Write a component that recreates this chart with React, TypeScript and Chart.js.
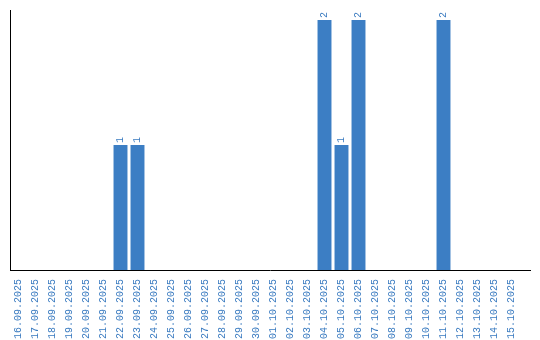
import React, { useEffect, useRef } from "react";
import { Chart, registerables } from "chart.js";

Chart.register(...registerables);

const categories = [
  "16.09.2025", "17.09.2025", "18.09.2025", "19.09.2025", "20.09.2025",
  "21.09.2025", "22.09.2025", "23.09.2025", "24.09.2025", "25.09.2025",
  "26.09.2025", "27.09.2025", "28.09.2025", "29.09.2025", "30.09.2025",
  "01.10.2025", "02.10.2025", "03.10.2025", "04.10.2025", "05.10.2025",
  "06.10.2025", "07.10.2025", "08.10.2025", "09.10.2025", "10.10.2025",
  "11.10.2025", "12.10.2025", "13.10.2025", "14.10.2025", "15.10.2025",
];

const counts = [
  0, 0, 0, 0, 0, 0, 1, 1, 0, 0,
  0, 0, 0, 0, 0, 0, 0, 0, 2, 1,
  2, 0, 0, 0, 0, 2, 0, 0, 0, 0,
];

const BAR_COLOR = "#3c7ec4";
const TEXT_COLOR = "#3a7bc0";
const FONT = "Liberation Mono";

const decorPlugin = {
  id: "decor",
  afterDatasetsDraw(chart: any) {
    const { ctx, chartArea } = chart;
    ctx.save();
    ctx.strokeStyle = "#000";
    ctx.lineWidth = 1;
    ctx.beginPath();
    ctx.moveTo(Math.round(chartArea.left) + 0.5, chartArea.top);
    ctx.lineTo(Math.round(chartArea.left) + 0.5, chartArea.bottom);
    ctx.moveTo(chartArea.left, Math.round(chartArea.bottom) + 0.5);
    ctx.lineTo(chartArea.right + 11, Math.round(chartArea.bottom) + 0.5);
    ctx.stroke();

    const meta = chart.getDatasetMeta(0);
    const data = chart.data.datasets[0].data as number[];
    ctx.fillStyle = TEXT_COLOR;
    ctx.font = `10px "${FONT}"`;
    ctx.textAlign = "left";
    ctx.textBaseline = "middle";
    meta.data.forEach((el: any, i: number) => {
      const v = data[i];
      if (!v) return;
      ctx.save();
      ctx.translate(el.x, el.y - 2);
      ctx.rotate(-Math.PI / 2);
      ctx.fillText(String(v), 0, 0);
      ctx.restore();
    });
    ctx.restore();
  },
};

export default function App() {
  const ref = useRef<HTMLCanvasElement>(null);
  useEffect(() => {
    document.body.style.margin = "0";
    const chart = new Chart(ref.current!, {
      type: "bar",
      data: {
        labels: categories,
        datasets: [
          {
            data: counts,
            backgroundColor: BAR_COLOR,
            borderWidth: 0,
            categoryPercentage: 1,
            barPercentage: 0.82,
          },
        ],
      },
      options: {
        animation: false,
        responsive: false,
        maintainAspectRatio: false,
        layout: { padding: { left: 10, top: 10, right: 20, bottom: 0 } },
        plugins: { legend: { display: false }, tooltip: { enabled: false } },
        scales: {
          x: {
            grid: { display: false },
            border: { display: false },
            afterFit: (scale: any) => {
              scale.height = 70;
            },
            ticks: {
              color: TEXT_COLOR,
              font: { family: FONT, size: 10 },
              minRotation: 90,
              maxRotation: 90,
              autoSkip: false,
              padding: 1,
            },
          },
          y: {
            display: false,
            min: 0,
            max: 2.08,
          },
        },
      },
      plugins: [decorPlugin],
    });
    return () => chart.destroy();
  }, []);
  return (
    <div style={{ width: 540, height: 340 }}>
      <canvas ref={ref} width={540} height={340} />
    </div>
  );
}
